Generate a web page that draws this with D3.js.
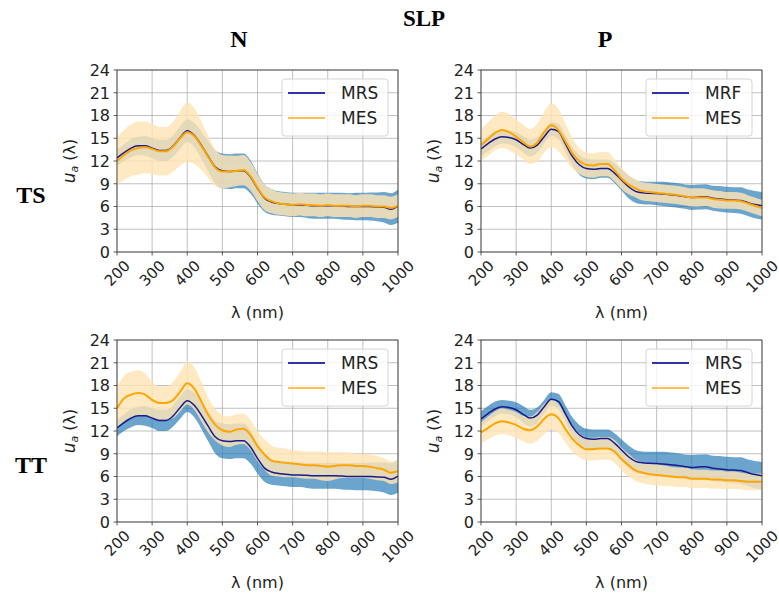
<!DOCTYPE html>
<html>
<head>
<meta charset="utf-8">
<script src="https://cdn.jsdelivr.net/npm/d3@7"></script>
<style>
  body { margin: 0; background: #fff; }
  svg { display: block; }
  text { font-family: "DejaVu Sans", sans-serif; fill: #222; }
  .ttl { font-family: "Liberation Serif", "Times New Roman", serif; font-weight: bold; fill: #000; }
</style>
</head>
<body>
<svg id="chart" width="779" height="595"></svg>
<script>
// wavelength grid (nm)
const wl = d3.range(200, 1001, 20);

// N column, reference MRS
const mrsN = [12.4, 13.1, 13.7, 14.0, 14.0, 13.7, 13.4, 13.4, 14.0, 15.1, 16.0, 15.4, 14.1, 12.6, 11.2, 10.7, 10.6, 10.7, 10.7, 9.9,
  8.4, 7.1, 6.6, 6.4, 6.3, 6.2, 6.2, 6.15, 6.1, 6.1, 6.1, 6.1, 6.05, 6.0, 6.0, 6.0, 6.0, 5.95, 5.9, 5.65, 6.05];
const mrsNsd = [1.1, 1.1, 1.2, 1.2, 1.3, 1.3, 1.4, 1.4, 1.4, 1.5, 1.5, 1.6, 1.8, 2.0, 2.2, 2.3, 2.3, 2.3, 2.3, 2.2,
  2.0, 1.8, 1.7, 1.6, 1.6, 1.6, 1.6, 1.65, 1.7, 1.7, 1.7, 1.7, 1.75, 1.75, 1.8, 1.8, 1.85, 1.9, 2.0, 2.1, 2.2];

// P column, reference MRF / MRS
const mrfP = [13.6, 14.3, 14.9, 15.2, 15.1, 14.8, 14.2, 13.7, 14.1, 15.2, 16.2, 15.9, 14.3, 12.6, 11.5, 11.0, 10.9, 11.0, 11.0, 10.4,
  9.5, 8.6, 8.0, 7.8, 7.75, 7.7, 7.65, 7.55, 7.45, 7.3, 7.2, 7.25, 7.3, 7.1, 7.0, 6.9, 6.85, 6.8, 6.5, 6.25, 6.1];
const mrfPsd = [1.0, 1.0, 1.0, 0.9, 0.9, 1.0, 1.1, 1.1, 1.0, 0.9, 0.9, 1.0, 1.1, 1.2, 1.3, 1.3, 1.3, 1.2, 1.2, 1.3,
  1.4, 1.5, 1.5, 1.5, 1.5, 1.55, 1.6, 1.6, 1.6, 1.6, 1.65, 1.65, 1.65, 1.65, 1.7, 1.7, 1.7, 1.75, 1.75, 1.8, 1.8];

// MES estimates
const mesTSN = [12.0, 12.8, 13.4, 13.7, 13.8, 13.6, 13.3, 13.3, 13.9, 15.0, 15.8, 15.3, 14.0, 12.5, 11.1, 10.6, 10.6, 10.7, 10.8, 10.0,
  8.5, 7.2, 6.7, 6.4, 6.3, 6.2, 6.3, 6.2, 6.2, 6.1, 6.2, 6.1, 6.1, 6.1, 6.0, 6.1, 6.1, 6.0, 6.0, 5.8, 6.1];
const mesTSNsd = [3.1, 3.3, 3.4, 3.5, 3.4, 3.3, 3.2, 3.2, 3.3, 3.6, 3.9, 3.7, 3.2, 2.8, 2.4, 2.2, 2.1, 2.0, 2.0, 1.9,
  1.8, 1.7, 1.6, 1.5, 1.5, 1.5, 1.5, 1.5, 1.5, 1.5, 1.5, 1.5, 1.5, 1.5, 1.5, 1.5, 1.5, 1.5, 1.5, 1.5, 1.5];

const mesTSP = [14.1, 14.9, 15.7, 16.1, 15.8, 15.2, 14.5, 13.9, 14.4, 15.8, 16.7, 16.1, 14.6, 13.0, 12.0, 11.5, 11.4, 11.6, 11.6, 10.8,
  9.7, 8.9, 8.4, 8.0, 7.9, 7.8, 7.7, 7.6, 7.5, 7.35, 7.2, 7.2, 7.2, 7.0, 6.9, 6.8, 6.8, 6.7, 6.4, 6.1, 5.8];
const mesTSPsd = [2.1, 2.2, 2.3, 2.4, 2.4, 2.3, 2.3, 2.3, 2.5, 2.7, 2.9, 2.8, 2.4, 2.0, 1.7, 1.6, 1.6, 1.6, 1.6, 1.5,
  1.4, 1.3, 1.2, 1.2, 1.2, 1.2, 1.2, 1.2, 1.2, 1.2, 1.2, 1.2, 1.15, 1.15, 1.15, 1.1, 1.1, 1.1, 1.1, 1.1, 1.1];

const mesTTN = [15.0, 16.3, 16.8, 17.0, 16.8, 16.1, 15.7, 15.7, 16.1, 17.2, 18.3, 17.6, 15.9, 14.1, 12.8, 12.1, 11.9, 12.2, 12.3, 11.5,
  10.0, 8.9, 8.1, 7.9, 7.8, 7.7, 7.6, 7.5, 7.5, 7.4, 7.3, 7.4, 7.5, 7.5, 7.4, 7.4, 7.3, 7.1, 6.9, 6.5, 6.7];
const mesTTNsd = [2.8, 3.0, 3.0, 3.0, 2.8, 2.4, 2.2, 2.2, 2.4, 2.6, 2.8, 2.8, 2.6, 2.3, 2.1, 2.0, 2.0, 2.0, 2.0, 2.0,
  2.0, 2.0, 2.0, 1.9, 1.9, 1.8, 1.8, 1.8, 1.8, 1.9, 1.9, 1.8, 1.7, 1.7, 1.6, 1.6, 1.6, 1.6, 1.5, 1.5, 1.5];

const mesTTP = [11.8, 12.4, 13.0, 13.3, 13.1, 12.8, 12.3, 12.1, 12.6, 13.6, 14.2, 13.7, 12.3, 11.0, 10.1, 9.6, 9.6, 9.7, 9.7, 9.3,
  8.3, 7.5, 6.8, 6.5, 6.3, 6.2, 6.1, 6.0, 5.9, 5.9, 5.7, 5.7, 5.7, 5.6, 5.6, 5.5, 5.5, 5.4, 5.3, 5.3, 5.3];
const mesTTPsd = [1.4, 1.5, 1.6, 1.7, 1.7, 1.7, 1.7, 1.8, 1.9, 2.0, 2.0, 1.9, 1.8, 1.7, 1.6, 1.5, 1.5, 1.5, 1.5, 1.5,
  1.5, 1.5, 1.4, 1.4, 1.4, 1.4, 1.35, 1.3, 1.3, 1.3, 1.25, 1.2, 1.2, 1.2, 1.2, 1.15, 1.15, 1.1, 1.1, 1.1, 1.1];

const xTicks = [200, 300, 400, 500, 600, 700, 800, 900, 1000];
const yTicks = [0, 3, 6, 9, 12, 15, 18, 21, 24];
const colTitles = ["N", "P"];
const rowTitles = ["TS", "TT"];

const panels = [
  {row: 0, col: 0, ref: mrsN, refSd: mrsNsd, mes: mesTSN, mesSd: mesTSNsd, refName: "MRS"},
  {row: 0, col: 1, ref: mrfP, refSd: mrfPsd, mes: mesTSP, mesSd: mesTSPsd, refName: "MRF"},
  {row: 1, col: 0, ref: mrsN, refSd: mrsNsd, mes: mesTTN, mesSd: mesTTNsd, refName: "MRS"},
  {row: 1, col: 1, ref: mrfP, refSd: mrfPsd, mes: mesTTP, mesSd: mesTTPsd, refName: "MRS"}
];

const svg = d3.select("#chart");
const lefts = [117, 481], tops = [70, 340];
const pw = 281, ph = 182;

svg.append("text").attr("class", "ttl").attr("x", 424).attr("y", 26)
  .attr("text-anchor", "middle").style("font-size", "23px").text("SLP");
colTitles.forEach((t, i) => {
  svg.append("text").attr("class", "ttl").attr("x", [239, 605][i]).attr("y", 47)
    .attr("text-anchor", "middle").style("font-size", "24px").text(t);
});
rowTitles.forEach((t, i) => {
  svg.append("text").attr("class", "ttl").attr("x", 31).attr("y", [203, 473][i])
    .attr("text-anchor", "middle").style("font-size", "24px").text(t);
});

panels.forEach(p => {
  const x0 = lefts[p.col], y0 = tops[p.row];
  const x = d3.scaleLinear().domain([200, 1000]).range([x0, x0 + pw]);
  const y = d3.scaleLinear().domain([0, 24]).range([y0 + ph, y0]);
  const g = svg.append("g");

  // grid
  g.selectAll(".gx").data(xTicks).enter().append("line")
    .attr("x1", d => x(d)).attr("x2", d => x(d)).attr("y1", y0).attr("y2", y0 + ph)
    .attr("stroke", "#b0b0b0").attr("stroke-width", 0.8);
  g.selectAll(".gy").data(yTicks).enter().append("line")
    .attr("x1", x0).attr("x2", x0 + pw).attr("y1", d => y(d)).attr("y2", d => y(d))
    .attr("stroke", "#b0b0b0").attr("stroke-width", 0.8);

  const clipId = "clip" + p.row + p.col;
  svg.append("clipPath").attr("id", clipId).append("rect")
    .attr("x", x0).attr("y", y0).attr("width", pw).attr("height", ph);
  const plot = g.append("g").attr("clip-path", `url(#${clipId})`);

  const band = (m, s) => d3.area().curve(d3.curveMonotoneX)
    .x((d, i) => x(wl[i])).y0((d, i) => y(m[i] - s[i])).y1((d, i) => y(m[i] + s[i]))(m);
  const line = m => d3.line().curve(d3.curveMonotoneX).x((d, i) => x(wl[i])).y(d => y(d))(m);

  plot.append("path").attr("d", band(p.ref, p.refSd)).attr("fill", "#1f77b4").attr("fill-opacity", 0.66);
  plot.append("path").attr("d", band(p.mes, p.mesSd)).attr("fill", "#ffe4b5").attr("fill-opacity", 0.82);
  plot.append("path").attr("d", line(p.ref)).attr("fill", "none").attr("stroke", "#1a1a8c").attr("stroke-width", 1.5);
  plot.append("path").attr("d", line(p.mes)).attr("fill", "none").attr("stroke", "#ffa500").attr("stroke-width", 2);

  // frame
  g.append("rect").attr("x", x0).attr("y", y0).attr("width", pw).attr("height", ph)
    .attr("fill", "none").attr("stroke", "#333").attr("stroke-width", 0.8);

  // ticks
  g.selectAll(".tx").data(xTicks).enter().append("line")
    .attr("x1", d => x(d)).attr("x2", d => x(d)).attr("y1", y0 + ph).attr("y2", y0 + ph + 3.5)
    .attr("stroke", "#333").attr("stroke-width", 0.8);
  g.selectAll(".ty").data(yTicks).enter().append("line")
    .attr("x1", x0 - 3.5).attr("x2", x0).attr("y1", d => y(d)).attr("y2", d => y(d))
    .attr("stroke", "#333").attr("stroke-width", 0.8);

  g.selectAll(".ly").data(yTicks).enter().append("text")
    .attr("x", x0 - 7).attr("y", d => y(d)).attr("dy", "0.36em")
    .attr("text-anchor", "end").style("font-size", "16px").text(d => d);

  g.selectAll(".lx").data(xTicks).enter().append("text")
    .attr("transform", d => {
      const half = (String(d).length * 9.6 + 11) * 0.354;
      return `translate(${x(d)},${y0 + ph + 7 + half}) rotate(-45)`;
    })
    .attr("text-anchor", "middle").attr("dy", "0.36em").style("font-size", "15px").text(d => d);

  g.append("text").attr("x", x0 + pw / 2).attr("y", y0 + ph + 66)
    .attr("text-anchor", "middle").style("font-size", "16px").text("λ (nm)");

  const yl = g.append("text")
    .attr("transform", `translate(${x0 - 42},${y0 + ph / 2}) rotate(-90)`)
    .attr("text-anchor", "middle").style("font-size", "16px");
  yl.append("tspan").style("font-style", "italic").style("font-size", "17px").text("u");
  yl.append("tspan").attr("baseline-shift", "-25%").style("font-size", "11px").style("font-style", "italic").text("a");
  yl.append("tspan").text(" (λ)");

  // legend
  const lx = x0 + pw - 10 - 106, ly = y0 + 9;
  const lg = g.append("g");
  lg.append("rect").attr("x", lx).attr("y", ly).attr("width", 106).attr("height", 57).attr("rx", 3)
    .attr("fill", "#fff").attr("fill-opacity", 0.8).attr("stroke", "#ccc").attr("stroke-width", 0.8);
  const items = [{name: p.refName, c: "#3333a8"}, {name: "MES", c: "#ffc04d"}];
  items.forEach((it, i) => {
    const cy = ly + 14 + i * 25;
    lg.append("line").attr("x1", lx + 6).attr("x2", lx + 43).attr("y1", cy).attr("y2", cy)
      .attr("stroke", it.c).attr("stroke-width", 2);
    lg.append("text").attr("x", lx + 59).attr("y", cy).attr("dy", "0.36em")
      .style("font-size", "17px").text(it.name);
  });
});
</script>
</body>
</html>
